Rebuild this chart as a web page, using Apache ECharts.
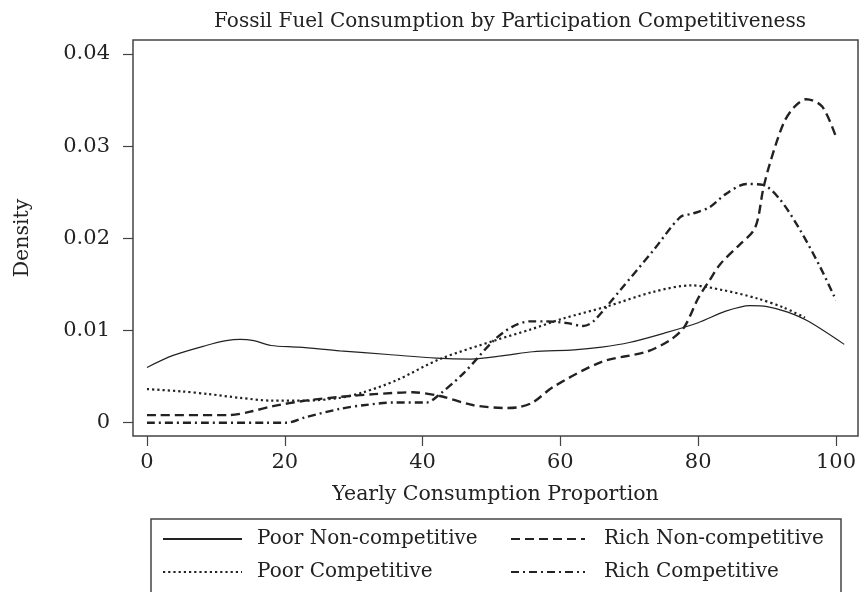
<!DOCTYPE html>
<html>
<head>
<meta charset="utf-8">
<script src="https://cdn.jsdelivr.net/npm/echarts@6/dist/echarts.min.js"></script>
<style>html,body{margin:0;padding:0;background:#fff}#c{width:859px;height:592px}</style>
</head>
<body>
<div id="c"></div>
<script>
const titleText = 'Fossil Fuel Consumption by Participation Competitiveness';
const xName = 'Yearly Consumption Proportion';
const yName = 'Density';
const xTicks = [0, 20, 40, 60, 80, 100];
const yTicks = [0, 0.01, 0.02, 0.03, 0.04];
const seriesNames = ['Poor Non-competitive', 'Poor Competitive', 'Rich Non-competitive', 'Rich Competitive'];

const poorNonComp = [[0,0.0060],[3.8,0.0073],[8.7,0.0084],[11.5,0.0089],[13.5,0.00905],[15.5,0.0089],[18,0.00838],[22,0.0082],[28,0.0078],[35,0.0074],[42,0.0070],[47,0.0069],[52,0.0073],[56,0.0077],[62,0.0079],[66,0.0082],[70,0.0087],[75,0.0097],[80,0.01085],[84,0.0121],[87.5,0.0127],[90,0.0126],[93,0.0120],[96,0.0110],[101.2,0.0085]];
const poorComp = [[0,0.00365],[5,0.0034],[9,0.0031],[13.5,0.0027],[18,0.0024],[23,0.0024],[28,0.0027],[31.4,0.0033],[36.2,0.0046],[42.5,0.0069],[50.8,0.0090],[55.6,0.0101],[60.4,0.0113],[66.7,0.0126],[73.5,0.0142],[79,0.0149],[83.5,0.0144],[88.5,0.0135],[92.4,0.0125],[95.5,0.0114]];
const richNonComp = [[0,0.00083],[12,0.00083],[15,0.0012],[18.3,0.0018],[23,0.0024],[28,0.0028],[33,0.0031],[38.6,0.0033],[42.5,0.0029],[47.4,0.0019],[52.2,0.0016],[54,0.0017],[56,0.0022],[59,0.0039],[66,0.0066],[72.5,0.0077],[76,0.0090],[78,0.0104],[80,0.0135],[81.7,0.0155],[83.2,0.0172],[86,0.0193],[88,0.0208],[88.7,0.0222],[89.4,0.0252],[90.4,0.0281],[92.4,0.0325],[94,0.0343],[95.7,0.0351],[98,0.0343],[100,0.0310]];
const richComp = [[0,0],[20.3,0],[23,0.0006],[28,0.0015],[31.4,0.0019],[36,0.0022],[40.6,0.0022],[42.5,0.0031],[46,0.0054],[50.3,0.0089],[53,0.0104],[55.6,0.0110],[58,0.0110],[61,0.0108],[63.3,0.0105],[64.8,0.0110],[68.7,0.0144],[73.5,0.0187],[77.4,0.0223],[79.3,0.0227],[81.7,0.0234],[84,0.0248],[87,0.0259],[89.4,0.0258],[91.9,0.0242],[94.8,0.0209],[97.7,0.0169],[100,0.0133]];

const FONT = 'DejaVu Serif';
const INK = '#222';
const chart = echarts.init(document.getElementById('c'), null, {renderer: 'canvas'});

function lineSeries(name, data, width, type) {
  return {
    name: name, type: 'line', data: data, smooth: 0.3, symbol: 'none',
    lineStyle: {color: INK, width: width, type: type, cap: 'butt'},
    itemStyle: {color: INK},
    emphasis: {disabled: true}, animation: false
  };
}

const legendCommon = {
  orient: 'vertical', padding: 0, itemGap: 13, itemHeight: 14,
  selectedMode: false,
  itemStyle: {opacity: 0},
  textStyle: {fontFamily: FONT, fontSize: 20, color: INK}
};

chart.setOption({
  animation: false,
  backgroundColor: '#fff',
  graphic: [
    {type: 'text', x: 510, y: 22, style: {text: titleText, fontFamily: FONT, fontSize: 20, fill: INK, textAlign: 'center', textVerticalAlign: 'middle'}},
    {type: 'rect', shape: {x: 151, y: 519, width: 690, height: 100}, style: {fill: 'none', stroke: '#444', lineWidth: 1.5}, z: 0}
  ],
  grid: {left: 133, top: 40, right: 1, bottom: 156, show: true, borderColor: '#444', borderWidth: 1.5, backgroundColor: 'transparent'},
  xAxis: {
    type: 'value', min: -2.03, max: 103.2,
    name: xName, nameLocation: 'middle', nameGap: 48,
    nameTextStyle: {fontFamily: FONT, fontSize: 20.5, color: INK},
    axisLine: {show: false, onZero: false},
    axisTick: {show: true, inside: false, length: 10, lineStyle: {color: '#444', width: 1.2}, customValues: xTicks},
    axisLabel: {fontFamily: FONT, fontSize: 21, color: INK, margin: 16, customValues: xTicks},
    splitLine: {show: false}
  },
  yAxis: {
    type: 'value', min: -0.00144, max: 0.04152,
    name: yName, nameLocation: 'middle', nameGap: 100, nameRotate: 90,
    nameTextStyle: {fontFamily: FONT, fontSize: 20.5, color: INK},
    axisLine: {show: false, onZero: false},
    axisTick: {show: true, inside: false, length: 10, lineStyle: {color: '#444', width: 1.2}, customValues: yTicks},
    axisLabel: {fontFamily: FONT, fontSize: 21, color: INK, margin: 23, customValues: yTicks,
      formatter: function (v) { return v === 0 ? '0' : v.toFixed(2); }},
    splitLine: {show: false}
  },
  legend: [
    Object.assign({}, legendCommon, {left: 162, top: 529, itemWidth: 79, data: [seriesNames[0], seriesNames[1]],
      textStyle: Object.assign({}, legendCommon.textStyle, {padding: [0, 0, 0, 10]})}),
    Object.assign({}, legendCommon, {left: 510, top: 529, itemWidth: 74, data: [seriesNames[2], seriesNames[3]],
      textStyle: Object.assign({}, legendCommon.textStyle, {padding: [0, 0, 0, 14]})})
  ],
  series: [
    lineSeries(seriesNames[0], poorNonComp, 1.2, 'solid'),
    lineSeries(seriesNames[1], poorComp, 2.2, [2.2, 3]),
    lineSeries(seriesNames[2], richNonComp, 2.4, [9, 5]),
    lineSeries(seriesNames[3], richComp, 2.4, [8, 4, 2, 4])
  ]
});
</script>
</body>
</html>
